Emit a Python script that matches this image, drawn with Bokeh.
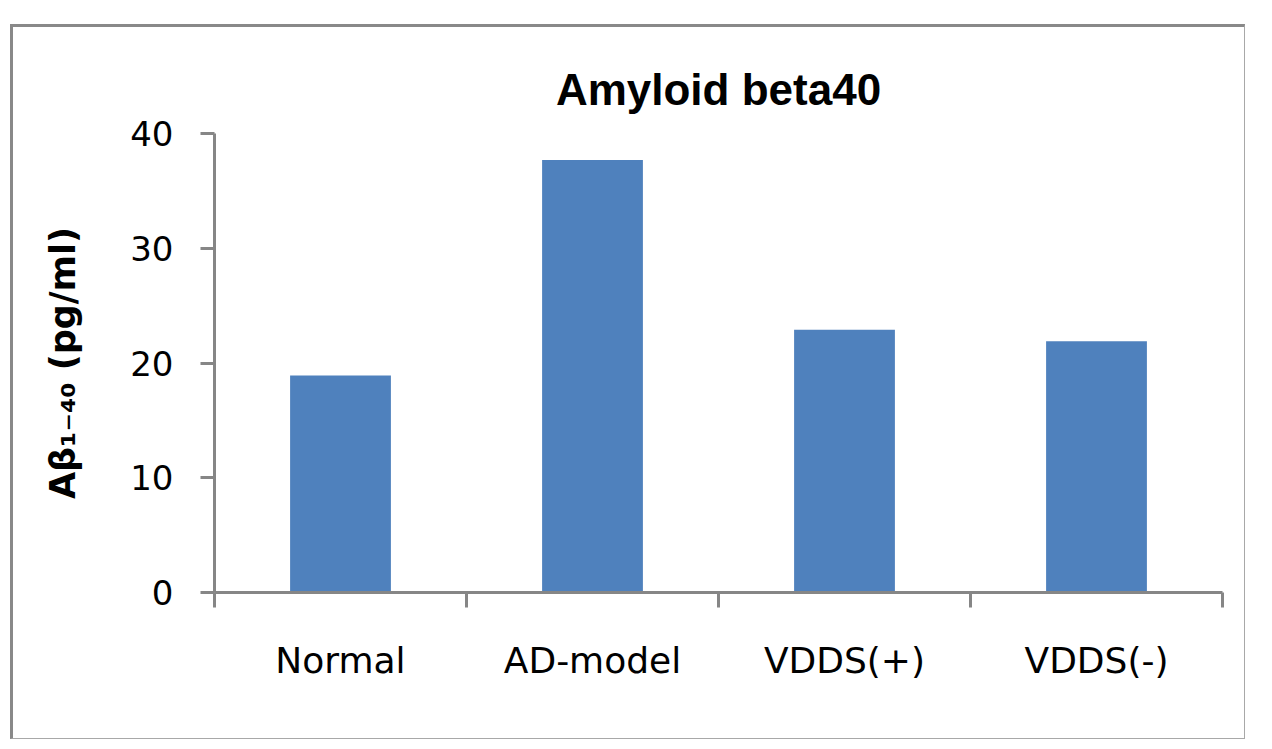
from bokeh.plotting import figure
from bokeh.models import FixedTicker, Range1d
from bokeh.embed import file_html
from bokeh.resources import INLINE

categories = ["Normal", "AD-model", "VDDS(+)", "VDDS(-)"]
values = [18.9, 37.7, 22.9, 21.9]
y_ticks = [0, 10, 20, 30, 40]

centers = [i + 0.5 for i in range(len(categories))]
bounds = list(range(len(categories) + 1))

AXIS = "#868686"

p = figure(width=1231, height=711,
           min_border_left=201, min_border_right=26,
           min_border_top=106, min_border_bottom=150,
           x_range=Range1d(0, len(categories)), y_range=Range1d(0, 40),
           output_backend="svg", toolbar_location=None,
           title="Amyloid beta40")
p.styles = {"border-top": "3px solid #898989", "border-left": "3px solid #898989",
            "border-right": "1px solid #a8a8a8", "border-bottom": "1px solid #a8a8a8",
            "box-sizing": "content-box",
            "margin-left": "10px", "margin-top": "24px"}

p.vbar(x=centers, top=values, width=0.4, bottom=0,
       fill_color="#4F81BD", line_color=None)

p.outline_line_color = None
p.grid.visible = False
p.background_fill_color = "white"
p.border_fill_color = "white"

p.title.align = "center"
p.title.text_font = "Liberation Sans"
p.title.text_font_style = "bold"
p.title.text_font_size = "44px"
p.title.text_color = "black"
p.title.standoff = 39

xa = p.xaxis[0]
xa.ticker = FixedTicker(ticks=centers, minor_ticks=bounds)
xa.major_label_overrides = {c: lab for c, lab in zip(centers, categories)}
xa.major_tick_line_color = None
xa.major_tick_in = 0
xa.major_tick_out = 0
xa.minor_tick_in = 0
xa.minor_tick_out = 15
xa.minor_tick_line_color = AXIS
xa.minor_tick_line_width = 3
xa.axis_line_color = AXIS
xa.axis_line_width = 3
xa.major_label_standoff = 32
xa.major_label_text_font = "DejaVu Sans"
xa.major_label_text_font_size = "36px"
xa.major_label_text_color = "black"

ya = p.yaxis[0]
ya.ticker = FixedTicker(ticks=y_ticks)
ya.major_tick_in = 0
ya.major_tick_out = 14
ya.major_tick_line_color = AXIS
ya.major_tick_line_width = 3
ya.minor_tick_line_color = None
ya.axis_line_color = AXIS
ya.axis_line_width = 3
ya.major_label_standoff = 27
ya.major_label_text_font = "DejaVu Sans"
ya.major_label_text_font_size = "34px"
ya.major_label_text_color = "black"
ya.axis_label = "Aβ₁₋₄₀ (pg/ml)"
ya.axis_label_text_font = "DejaVu Sans"
ya.axis_label_text_font_style = "bold"
ya.axis_label_text_font_size = "35px"
ya.axis_label_text_color = "black"
ya.axis_label_standoff = 44

open("out.html", "w").write(file_html(p, INLINE))
